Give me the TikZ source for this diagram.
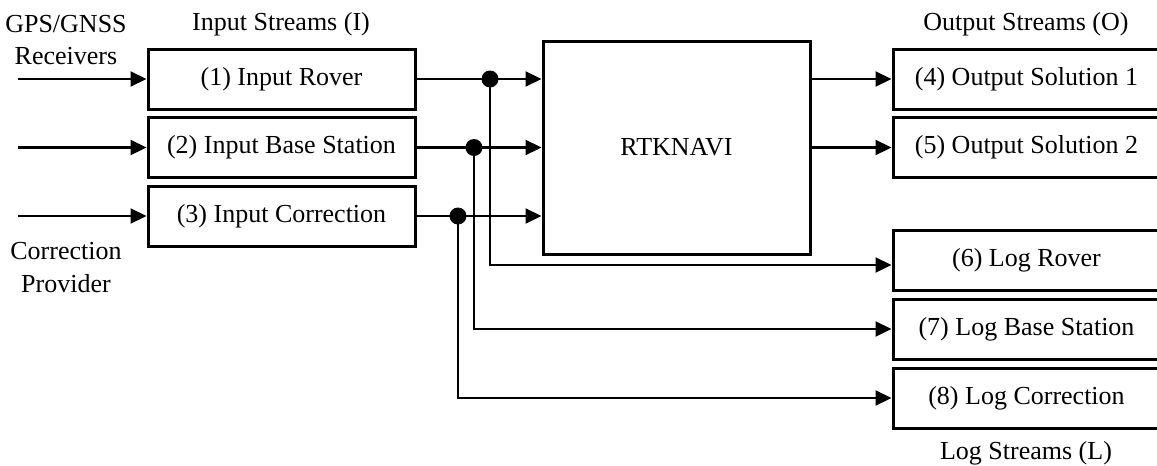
\documentclass[tikz,border=0pt]{standalone}
\usepackage{fontspec}
\setmainfont{Liberation Serif}
\usetikzlibrary{arrows.meta,calc}
\tikzset{
  box/.style={draw=black, line width=3pt, minimum width=267pt, minimum height=60pt, inner sep=0pt, fill=white},
  conn/.style={draw=black, line width=2.2pt},
  arr/.style={conn, -{Triangle[length=16pt,width=15pt]}},
  lbl/.style={inner sep=0pt, align=center},
  dot/.style={circle, fill=black, minimum size=17pt, inner sep=0pt},
}
\begin{document}
\begin{tikzpicture}[x=1pt,y=-1pt, font=\fontsize{26}{30}\selectfont]
\useasboundingbox (0,0) rectangle (1157,466);
% labels
\node[lbl] (gps) at (66,24) {GPS/GNSS};
\node[lbl] (rcv) at (66,56) {Receivers};
\node[lbl] (corr) at (66,251) {Correction};
\node[lbl] (prov) at (66,284) {Provider};
\node[lbl] (instr) at (281,24) {Input Streams (I)};
\node[lbl] (outstr) at (1026,24) {Output Streams (O)};
\node[lbl] (logstr) at (1026,453) {Log Streams (L)};
% boxes
\node[box] (in1) at (281.5,79) {(1) Input Rover};
\node[box] (in2) at (281.5,147.5) {(2) Input Base Station};
\node[box] (in3) at (281.5,216) {(3) Input Correction};
\node[box, minimum height=213pt] (rtk) at (676.5,147.5) {RTKNAVI};
\node[box] (out4) at (1026.5,79) {(4) Output Solution 1};
\node[box] (out5) at (1026.5,147.5) {(5) Output Solution 2};
\node[box] (log6) at (1026.5,260.5) {(6) Log Rover};
\node[box] (log7) at (1026.5,329) {(7) Log Base Station};
\node[box] (log8) at (1026.5,398) {(8) Log Correction};
% sources
\coordinate (s1) at (18,79);
\coordinate (s2) at (18,147.5);
\coordinate (s3) at (18,216);
\draw[arr] (s1) -- (in1.west);
\draw[arr] (s2) -- (in2.west);
\draw[arr] (s3) -- (in3.west);
% junctions
\coordinate (j1) at (490,79);
\coordinate (j2) at (474,147.5);
\coordinate (j3) at (458,216);
\draw[arr] (in1.east) -- (in1.east -| rtk.west);
\draw[arr] (in2.east) -- (in2.east -| rtk.west);
\draw[arr] (in3.east) -- (in3.east -| rtk.west);
\draw[arr] (j1) |- ([yshift=-4.5pt]log6.west);
\draw[arr] (j2) |- (log7.west);
\draw[arr] (j3) |- (log8.west);
\node[dot] (d1) at (j1) {};
\node[dot] (d2) at (j2) {};
\node[dot] (d3) at (j3) {};
% outputs
\draw[arr] (rtk.east |- out4.west) -- (out4.west);
\draw[arr] (rtk.east |- out5.west) -- (out5.west);
\end{tikzpicture}
\end{document}
